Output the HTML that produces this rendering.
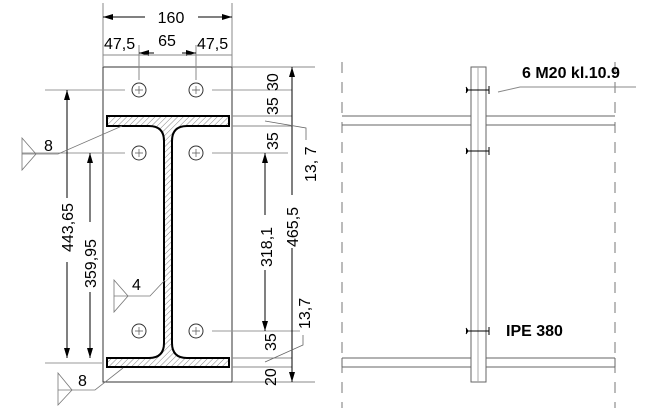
<!DOCTYPE html>
<html><head><meta charset="utf-8"><style>
html,body{margin:0;padding:0;background:#fff;}
svg{display:block;}
text{font-family:"Liberation Sans",sans-serif;font-size:16px;fill:#000;}
</style></head><body>
<svg width="651" height="408" viewBox="0 0 651 408" xmlns="http://www.w3.org/2000/svg">
<defs>
<pattern id="h" patternUnits="userSpaceOnUse" width="4" height="4" patternTransform="rotate(45)">
<line x1="0" y1="0" x2="0" y2="4" stroke="#666" stroke-width="0.8"/>
</pattern>
<marker id="a" viewBox="0 0 10 6" refX="10" refY="3" markerWidth="10" markerHeight="6" orient="auto-start-reverse" markerUnits="userSpaceOnUse">
<path d="M0,0 L10,3 L0,6 z" fill="#000"/>
</marker>
</defs>
<g fill="none" stroke="#555" stroke-width="1">
<rect x="103" y="67" width="129" height="315" stroke="#333"/>
<line x1="103" y1="3" x2="103" y2="67" stroke="#888"/>
<line x1="232" y1="3" x2="232" y2="67" stroke="#888"/>
<line x1="139" y1="45" x2="139" y2="80" stroke="#888"/>
<line x1="196" y1="45" x2="196" y2="80" stroke="#888"/>
<line x1="103" y1="17" x2="145" y2="17" stroke="#000" marker-start="url(#a)"/>
<line x1="198" y1="17" x2="232" y2="17" stroke="#000" marker-end="url(#a)"/>
<line x1="139" y1="53" x2="154" y2="53" stroke="#000" marker-start="url(#a)"/>
<line x1="182" y1="53" x2="196" y2="53" stroke="#000" marker-end="url(#a)"/>
<line x1="103" y1="55" x2="232" y2="55" stroke="#888"/>
<line x1="45" y1="90" x2="125" y2="90" stroke="#999"/>
<line x1="212" y1="90" x2="292" y2="90" stroke="#999"/>
<line x1="22" y1="153" x2="125" y2="153" stroke="#999"/>
<line x1="212" y1="153" x2="288" y2="153" stroke="#999"/>
<line x1="212" y1="331" x2="300" y2="331" stroke="#999"/>
<line x1="45" y1="363" x2="103" y2="363" stroke="#999"/>
<line x1="232" y1="67" x2="315" y2="67" stroke="#888"/>
<line x1="232" y1="382" x2="315" y2="382" stroke="#888"/>
<line x1="232" y1="116" x2="292" y2="116" stroke="#888"/>
<line x1="232" y1="126" x2="292" y2="126" stroke="#888"/>
<line x1="232" y1="358" x2="292" y2="358" stroke="#888"/>
<line x1="232" y1="367" x2="292" y2="367" stroke="#888"/>
</g>
<g fill="none" stroke="#333" stroke-width="1">
<circle cx="139" cy="90" r="7"/><circle cx="196" cy="90" r="7"/>
<circle cx="139" cy="153" r="7"/><circle cx="196" cy="153" r="7"/>
<circle cx="139" cy="331" r="7"/><circle cx="196" cy="331" r="7"/>
</g>
<g stroke="#555" stroke-width="0.7">
<path d="M135,90h8M139,86v8M192,90h8M196,86v8M135,153h8M139,149v8M192,153h8M196,149v8M135,331h8M139,327v8M192,331h8M196,327v8"/>
</g>
<path d="M107,116 H229 V126 H187 Q172,126 172,141 V343 Q172,358 187,358 H229 V367 H107 V358 H149 Q164,358 164,343 V141 Q164,126 149,126 H107 Z" fill="url(#h)" stroke="#000" stroke-width="2"/>
<g stroke="#000" stroke-width="1" fill="none">
<line x1="67" y1="90" x2="67" y2="198" marker-start="url(#a)"/>
<line x1="67" y1="262" x2="67" y2="358" marker-end="url(#a)"/>
<line x1="90" y1="153" x2="90" y2="222" marker-start="url(#a)"/>
<line x1="90" y1="292" x2="90" y2="358" marker-end="url(#a)"/>
<line x1="292" y1="67" x2="292" y2="195" marker-start="url(#a)"/>
<line x1="292" y1="248" x2="292" y2="382" marker-end="url(#a)"/>
<line x1="265" y1="153" x2="265" y2="215" marker-start="url(#a)"/>
<line x1="265" y1="270" x2="265" y2="331" marker-end="url(#a)"/>
</g>
<g stroke="#666" stroke-width="0.8" fill="none">
<path d="M265,121 L306,128 V140"/>
<path d="M265,362 L303,345 V335"/>
</g>
<g stroke="#777" stroke-width="0.8" fill="none">
<path d="M22,138 L36,154 L22,170 Z"/><path d="M22,154 H58 L122,126"/>
<path d="M114,280 L128,296 L114,312 Z"/><path d="M114,296 H150 L165,280"/>
<path d="M58,373 L72,390 L58,405 Z"/><path d="M58,390 H95 L123,368"/>
</g>
<text x="171" y="23" text-anchor="middle">160</text>
<text x="104" y="49">47,5</text>
<text x="167" y="46" text-anchor="middle">65</text>
<text x="197" y="49">47,5</text>
<text x="44" y="151">8</text>
<text x="132" y="290">4</text>
<text x="78" y="386">8</text>
<text transform="translate(73,252) rotate(-90)">443,65</text>
<text transform="translate(96,288) rotate(-90)">359,95</text>
<text transform="translate(298,247) rotate(-90)">465,5</text>
<text transform="translate(272,267) rotate(-90)">318,1</text>
<text transform="translate(278,91) rotate(-90)">30</text>
<text transform="translate(278,115) rotate(-90)">35</text>
<text transform="translate(278,150) rotate(-90)">35</text>
<text transform="translate(316,182) rotate(-90)">13, 7</text>
<text transform="translate(310,329) rotate(-90)">13,7</text>
<text transform="translate(276,351) rotate(-90)">35</text>
<text transform="translate(276,386) rotate(-90)">20</text>
<g stroke="#777" stroke-width="1" fill="none" stroke-dasharray="11,9">
<line x1="342" y1="62" x2="342" y2="408"/>
<line x1="615" y1="62" x2="615" y2="408"/>
</g>
<g stroke="#666" stroke-width="1" fill="none">
<line x1="342" y1="116" x2="471" y2="116"/><line x1="486" y1="116" x2="615" y2="116"/>
<line x1="342" y1="125" x2="471" y2="125"/><line x1="486" y1="125" x2="615" y2="125"/>
<line x1="342" y1="358" x2="471" y2="358"/><line x1="486" y1="358" x2="615" y2="358"/>
<line x1="342" y1="367" x2="471" y2="367"/><line x1="486" y1="367" x2="615" y2="367"/>
<line x1="342" y1="358" x2="342" y2="367"/>
<line x1="615" y1="358" x2="615" y2="367"/>
<rect x="471" y="67" width="15" height="315"/>
<line x1="478" y1="67" x2="478" y2="382" stroke="#aaa"/>
<path d="M498,92 L520,87 H636" stroke="#888"/>
</g>
<g stroke="#000" stroke-width="1">
<path d="M466,90 H489 M489,86 V94 M466,87 l2,3 l-2,3"/>
<path d="M466,151 H489 M489,147 V155 M466,148 l2,3 l-2,3"/>
<path d="M466,331 H489 M489,327 V335 M466,328 l2,3 l-2,3"/>
</g>
<text x="522" y="78" style="font-weight:bold">6 M20 kl.10.9</text>
<text x="506" y="336" style="font-weight:bold">IPE 380</text>
</svg>
</body></html>
